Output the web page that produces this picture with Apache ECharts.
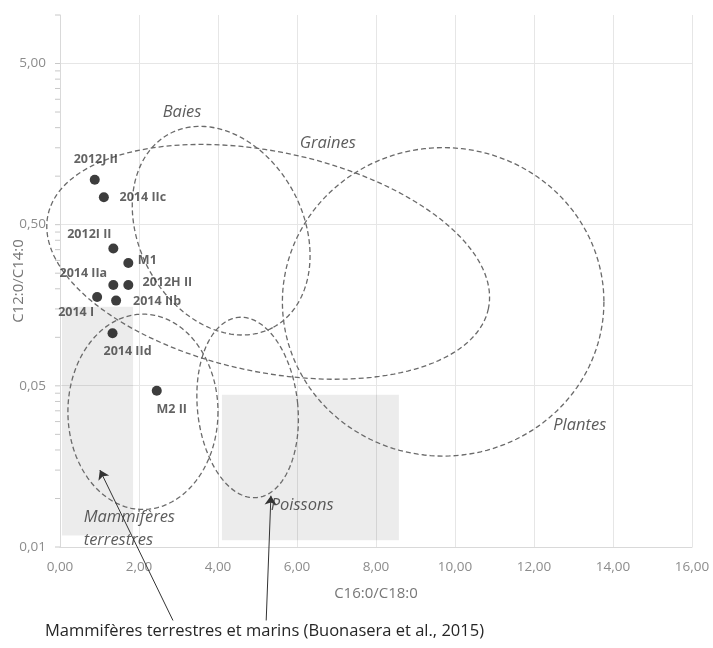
<!DOCTYPE html>
<html><head><meta charset="utf-8">
<script src="https://cdn.jsdelivr.net/npm/echarts@6/dist/echarts.min.js"></script>
<style>html,body{margin:0;padding:0;background:#fff}#c{width:713px;height:648px}</style>
</head><body><div id="c"></div>
<script>
// ---- data ----
const sampleNames = ['2012J II','2014 IIc','2012I II','M1','2014 IIa','2012H II','2014 I','2014 IIb','2014 IId','M2 II'];
const c16c18 = [0.88, 1.11, 1.35, 1.73, 1.35, 1.73, 0.94, 1.42, 1.33, 2.45];
const c12c14 = [0.95, 0.74, 0.356, 0.289, 0.211, 0.211, 0.178, 0.169, 0.106, 0.0466];

const xTickLabels = ['0,00','2,00','4,00','6,00','8,00','10,00','12,00','14,00','16,00'];
const yTickLabels = ['0,01','0,05','0,50','5,00'];
const yMajorTicks = [0.005, 0.05, 0.5, 5];
const yMinorMultipliers = [2, 3, 4, 5, 6, 7, 8, 9];

// reference zones (ellipses): centre (x, ratio), half-axes (x units, decades), tilt (deg)
const zoneNames = ['Graines','Baies','Plantes','Mammifères terrestres','Poissons'];
const zoneCx = [5.27, 4.08, 9.70, 2.10, 4.75];
const zoneCy = [0.294, 0.459, 0.166, 0.0345, 0.0367];
const zoneRx = [5.70, 2.78, 4.07, 1.90, 1.27];
const zoneRy = [0.683, 0.509, 0.957, 0.606, 0.562];
const zoneTilt = [12, 62, 0, 0, -6];

// zone captions
const captionText = ['Baies','Graines','Plantes','Poissons','Mammifères\nterrestres'];
const captionX = [3.09, 6.78, 13.16, 6.13, 0.6];
const captionY = [2.48, 1.61, 0.0286, 0.0091, 0.0065];
const captionAlign = ['center','center','center','center','left'];

// shaded literature ranges (Buonasera et al., 2015)
const rangeNames = ['Mammifères terrestres','Mammifères marins'];
const rangeX0 = [0.05, 4.1];
const rangeX1 = [1.85, 8.58];
const rangeYTop = [0.155, 0.044];
const rangeYBottom = [0.0059, 0.0055];

const footnote = 'Mammifères terrestres et marins (Buonasera et al., 2015)';

// ---- chart ----
const lg = v => Math.log10(v);
const Y_MIN = lg(0.005), Y_MAX = 1;

const labelOffsets = {
  '2012J II':[1,-20], '2014 IIc':[39,0], '2012I II':[-24,-14], 'M1':[19,-3],
  '2014 IIa':[-30,-12], '2012H II':[39,-3], '2014 I':[-21,15], '2014 IIb':[41,1],
  '2014 IId':[15,18], 'M2 II':[15,19]
};

// log-scale tick marks on the vertical axis
const logTickValues = [];
yMajorTicks.forEach(m => {
  logTickValues.push(lg(m));
  yMinorMultipliers.forEach(k => { const v = lg(m*k); if (v <= Y_MAX + 1e-9) logTickValues.push(v); });
});

const chart = echarts.init(document.getElementById('c'), null, {renderer:'canvas'});
const font = '"Open Sans", sans-serif';

const pointData = sampleNames.map((n,i)=>({
  name:n, value:[c16c18[i], lg(c12c14[i])],
  label:{offset: labelOffsets[n]}
}));

const zoneData = zoneNames.map((n,i)=>[zoneCx[i], lg(zoneCy[i]), zoneRx[i], zoneRy[i], zoneTilt[i]]);
const rangeData = rangeNames.map((n,i)=>[rangeX0[i], lg(rangeYTop[i]), rangeX1[i], lg(rangeYBottom[i])]);
const captionData = captionText.map((t,i)=>({name:t, value:[captionX[i], lg(captionY[i])], label:{align:captionAlign[i]}}));
const tickData = logTickValues.map(v => [0, v]);

// arrows from footnote to the shaded ranges
const arrowData = [
  {coords:[[2.86, lg(0.00175)],[1.01, lg(0.015)]]},
  {coords:[[5.22, lg(0.00175)],[5.34, lg(0.0104)]]}
];

chart.setOption({
  animation:false,
  backgroundColor:'#fff',
  textStyle:{fontFamily:font},
  title:{text:footnote, left:45, top:623, padding:0, textStyle:{fontSize:16.5, fontWeight:'normal', color:'#262626', fontFamily:font}},
  grid:{left:60, right:21, top:15, bottom:101, containLabel:false, outerBoundsMode:'none'},
  xAxis:{
    type:'value', min:0, max:16, interval:2,
    name:'C16:0/C18:0', nameLocation:'middle', nameGap:39, nameMoveOverlap:false,
    nameTextStyle:{color:'#777', fontSize:15},
    axisLine:{show:true, onZero:false, lineStyle:{color:'#d9d9d9'}},
    axisTick:{show:false},
    axisLabel:{color:'#8c8c8c', fontSize:13.5, margin:13, formatter:(v,i)=>xTickLabels[i] ?? ''},
    splitLine:{show:true, lineStyle:{color:'#e6e6e6'}}
  },
  yAxis:{
    type:'value', min:Y_MIN, max:Y_MAX, interval:1,
    name:'C12:0/C14:0', nameLocation:'middle', nameGap:34, nameMoveOverlap:false,
    nameTextStyle:{color:'#777', fontSize:15},
    axisLine:{show:true, onZero:false, lineStyle:{color:'#d9d9d9'}},
    axisTick:{show:false},
    axisLabel:{color:'#8c8c8c', fontSize:13.5, margin:14, formatter:(v,i)=>yTickLabels[i] ?? ''},
    splitLine:{show:true, showMaxLine:false, lineStyle:{color:'#e6e6e6'}}
  },
  series:[
    {
      type:'custom', name:'logTicks', data:tickData, silent:true, z:1, clip:false,
      renderItem:(p,api)=>{
        const c = api.coord([api.value(0), api.value(1)]);
        return {type:'line', shape:{x1:c[0]-5, y1:c[1], x2:c[0], y2:c[1]},
                style:{stroke:'#c8c8c8', lineWidth:1}};
      }
    },
    {
      type:'custom', name:'ranges', data:rangeData, silent:true, z:1,
      renderItem:(p,api)=>{
        const a = api.coord([api.value(0), api.value(1)]);
        const b = api.coord([api.value(2), api.value(3)]);
        return {type:'rect', shape:{x:a[0], y:a[1], width:b[0]-a[0], height:b[1]-a[1]},
                style:{fill:'rgba(0,0,0,0.075)'}};
      }
    },
    {
      type:'custom', name:'zones', data:zoneData, silent:true, z:3, clip:false,
      renderItem:(p,api)=>{
        const c = api.coord([api.value(0), api.value(1)]);
        const s = api.size([api.value(2), api.value(3)]);
        const a = Math.abs(s[0]), b = Math.abs(s[1]);
        const phi = api.value(4)*Math.PI/180;
        const pts = [];
        for (let k=0;k<160;k++){
          const t = k/160*2*Math.PI;
          pts.push([c[0]+a*Math.cos(t)*Math.cos(phi)-b*Math.sin(t)*Math.sin(phi),
                    c[1]+a*Math.cos(t)*Math.sin(phi)+b*Math.sin(t)*Math.cos(phi)]);
        }
        return {type:'polygon', shape:{points:pts},
                style:{fill:null, stroke:'#6a6a6a', lineWidth:1.3, lineDash:[5,3]}};
      }
    },
    {
      type:'scatter', name:'captions', data:captionData, symbolSize:0, silent:true, z:4,
      label:{show:true, position:'inside', formatter:'{b}', fontStyle:'italic', fontSize:16.5,
             color:'#333', verticalAlign:'middle', lineHeight:23}
    },
    {
      type:'lines', coordinateSystem:'cartesian2d', data:arrowData, clip:false, silent:true, z:5,
      symbol:['none','arrow'], symbolSize:9,
      lineStyle:{color:'#333', width:1, opacity:1}
    },
    {
      type:'scatter', name:'samples', data:pointData, symbolSize:10, z:6,
      itemStyle:{color:'#0d0d0d'},
      label:{show:true, position:'inside', formatter:'{b}', fontSize:12.5, fontWeight:'bold',
             color:'#3c3c3c', align:'center', verticalAlign:'middle'}
    }
  ]
});
</script></body></html>
